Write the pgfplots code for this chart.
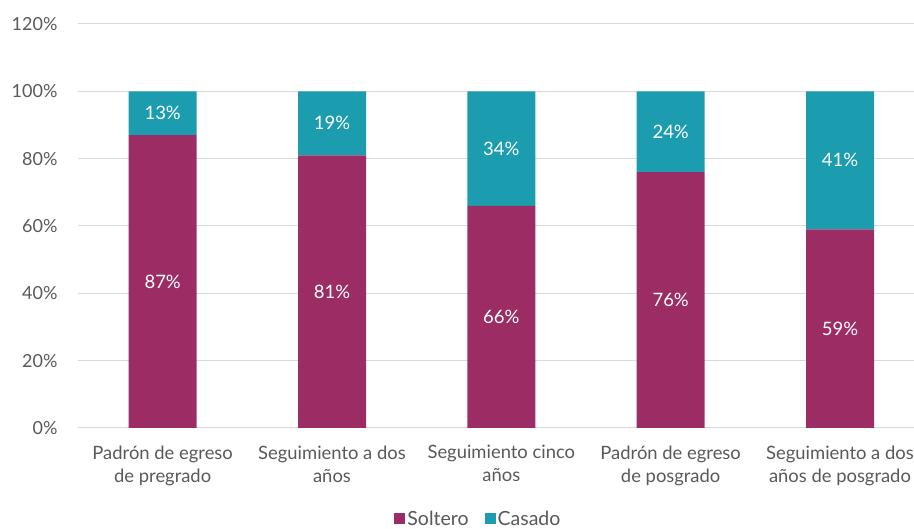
\documentclass[border=0pt]{standalone}
\usepackage{pgfplots}
\pgfplotsset{compat=1.18}
\usepackage{fontspec}
\setmainfont{Lato}
\definecolor{soltero}{HTML}{9B2D64}
\definecolor{casado}{HTML}{1B9CAF}
\definecolor{txt}{HTML}{595959}
\definecolor{grd}{HTML}{D9D9D9}
\begin{document}
\begin{tikzpicture}[x=1pt,y=1pt]
\begin{axis}[
  at={(78pt,101pt)}, anchor=south west,
  scale only axis,
  width=836pt, height=404pt,
  ybar stacked, bar width=68pt,
  xmin=-0.5, xmax=4.437,
  ymin=0, ymax=120,
  ytick={0,20,...,120},
  xtick={0,1,2,3,4},
  xticklabels={Padrón de egreso\\de pregrado, Seguimiento a dos\\años, Seguimiento cinco\\años, Padrón de egreso\\de posgrado, Seguimiento a dos\\años de posgrado},
  xticklabel style={align=center, font=\fontsize{18.4}{23}\selectfont, text=txt, yshift=-14pt},
  yticklabel={\pgfmathprintnumber[assume math mode=true]{\tick}\%},
  yticklabel style={font=\fontsize{18}{20}\selectfont, text=txt, xshift=-17pt},
  major tick length=0pt,
  axis line style={draw=none},
  ymajorgrids, grid style={grd, line width=1pt},
  point meta=rawy,
  nodes near coords={\pgfmathprintnumber[assume math mode=true]{\pgfplotspointmeta}\%},
  every node near coord/.append style={font=\fontsize{18.5}{20}\selectfont, text=white, anchor=center},
  legend style={at={(0.479,-0.225)}, anchor=center, draw=none, legend columns=2,
    font=\fontsize{19.5}{21}\selectfont, text=txt,
    /tikz/every even column/.append style={column sep=14pt}},
  legend image code/.code={\fill[#1] (0pt,-5.5pt) rectangle (11pt,5.5pt);},
]
\addplot[fill=soltero, draw=none] coordinates {(0,87) (1,81) (2,66) (3,76) (4,59)};
\addplot[fill=casado, draw=none] coordinates {(0,13) (1,19) (2,34) (3,24) (4,41)};
\legend{Soltero, Casado}
\end{axis}
\pgfresetboundingbox
\path[use as bounding box] (0,0) rectangle (914,529);
\end{tikzpicture}
\end{document}
